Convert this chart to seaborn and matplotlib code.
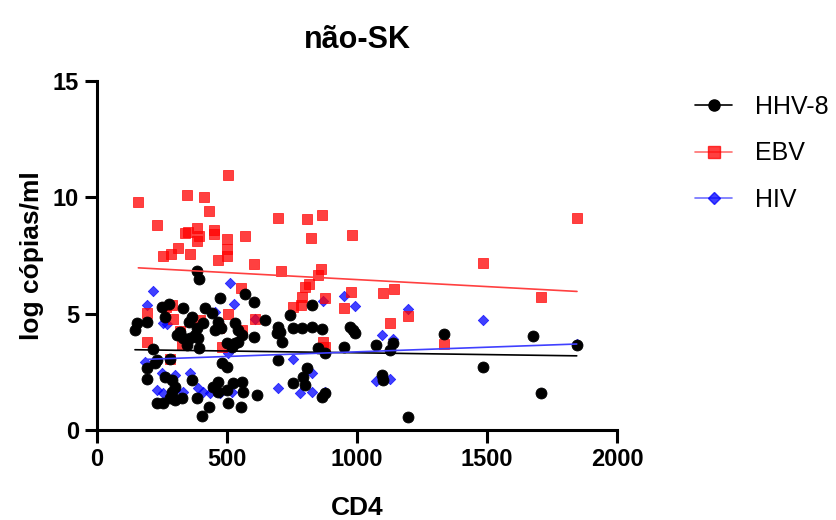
import numpy as np
import pandas as pd
import matplotlib
matplotlib.use("Agg")
import matplotlib.pyplot as plt
from matplotlib.lines import Line2D
import seaborn as sns

# CD4 count vs log copies/ml
hhv8_cd4 = [386, 393, 473, 569, 605, 277, 249, 330, 415, 441, 262, 364, 355, 155, 146,
            191, 409, 383, 467, 454, 476, 531, 543, 557, 543, 646, 742, 695, 704, 691,
            710, 755, 787, 826, 864, 826, 973, 986, 319, 307, 332, 377, 358, 345, 390,
            605, 499, 518, 531, 393, 217, 281, 230, 223, 191, 191, 480, 499, 697, 851,
            877, 951, 807, 793, 800, 753, 262, 287, 300, 364, 467, 447, 467, 499, 524,
            557, 563, 614, 287, 281, 300, 326, 230, 255, 383, 505, 432, 403, 553, 864,
            877, 992, 1073, 1140, 1127, 1335, 1676, 1845, 1483, 1095, 1099, 1708, 1197]
hhv8_log = [6.83, 6.49, 5.69, 5.84, 5.50, 5.41, 5.30, 5.23, 5.23, 5.04, 4.87, 4.87, 4.65, 4.61, 4.30,
            4.65, 4.58, 4.37, 4.65, 4.30, 4.37, 4.58, 4.30, 4.08, 3.79, 4.73, 4.94, 4.44, 4.22, 4.16,
            3.79, 4.37, 4.37, 4.44, 4.33, 5.37, 4.44, 4.30, 4.22, 4.08, 3.94, 4.08, 3.94, 3.65, 3.94,
            4.01, 3.73, 3.58, 3.73, 3.51, 3.47, 3.05, 3.01, 2.87, 2.65, 2.19, 2.87, 2.69, 3.01, 3.51,
            3.30, 3.58, 2.65, 2.29, 1.93, 2.01, 2.29, 2.15, 1.86, 2.15, 2.08, 1.86, 1.65, 1.72, 2.01,
            2.08, 1.65, 1.50, 1.65, 1.36, 1.29, 1.36, 1.15, 1.15, 1.36, 1.15, 1.00, 0.60, 1.00, 1.43,
            1.58, 4.18, 3.65, 3.73, 3.44, 4.13, 4.05, 3.65, 2.72, 2.36, 2.15, 1.58, 0.57]

ebv_cd4 = [505, 159, 346, 413, 432, 230, 351, 386, 393, 383, 450, 449, 501, 501, 500,
           464, 570, 697, 809, 864, 824, 980, 253, 283, 310, 357, 605, 709, 862, 851,
           553, 817, 800, 787, 877, 976, 1846, 1485, 1101, 1142, 1708, 951, 1197, 1127, 1335,
           783, 753, 265, 288, 293, 193, 505, 608, 396, 470, 556, 319, 193, 328, 480, 870,
           877, 338, 281]
ebv_log = [10.96, 9.78, 10.10, 10.00, 9.41, 8.80, 8.52, 8.67, 8.34, 8.13, 8.59, 8.41, 8.19, 7.76, 7.48,
           7.30, 8.34, 9.10, 9.05, 9.24, 8.25, 8.38, 7.48, 7.58, 7.83, 7.58, 7.13, 6.83, 6.92, 6.66,
           6.09, 6.26, 6.16, 5.73, 5.67, 5.94, 9.10, 7.16, 5.87, 6.05, 5.73, 5.23, 4.90, 4.61, 3.70,
           5.37, 5.30, 5.30, 5.37, 4.76, 5.04, 4.97, 4.77, 4.73, 4.40, 4.30, 4.27, 3.79, 3.65, 3.58,
           3.79, 3.58, 8.48, 3.05]

hiv_cd4 = [217, 512, 951, 191, 528, 255, 268, 608, 870, 454, 505, 753, 185, 249, 300,
           358, 826, 230, 255, 332, 300, 390, 409, 435, 473, 518, 697, 781, 826, 877,
           992, 1197, 1483, 1095, 1140, 1073, 1127, 1845, 1708, 191]
hiv_log = [5.99, 6.33, 5.74, 5.37, 5.41, 4.58, 4.54, 4.76, 5.56, 5.08, 3.30, 3.04, 2.93, 2.44, 2.36,
           2.44, 2.44, 1.72, 1.58, 1.65, 1.72, 1.79, 1.65, 1.58, 1.58, 1.65, 1.79, 1.60, 1.65, 1.65,
           5.33, 5.19, 4.73, 4.08, 3.90, 2.12, 2.19, 3.70, 1.58, 2.19]

series = ["HHV-8", "EBV", "HIV"]

df = pd.concat([
    pd.DataFrame({"CD4": hhv8_cd4, "log": hhv8_log, "virus": "HHV-8"}),
    pd.DataFrame({"CD4": ebv_cd4, "log": ebv_log, "virus": "EBV"}),
    pd.DataFrame({"CD4": hiv_cd4, "log": hiv_log, "virus": "HIV"}),
], ignore_index=True)

sns.set_style("ticks")
plt.rcParams['font.family'] = ['Liberation Sans', 'DejaVu Sans']
for k in ["text.color", "axes.labelcolor", "xtick.color", "ytick.color", "axes.edgecolor"]:
    plt.rcParams[k] = "black"

colors = {"HHV-8": "#000000", "EBV": "#ff0000", "HIV": "#0000ff"}
markers = {"HHV-8": "o", "EBV": "s", "HIV": "D"}
sizes = {"HHV-8": 62, "EBV": 52, "HIV": 28}
alphas = {"HHV-8": 1.0, "EBV": 0.75, "HIV": 0.75}

fig = plt.figure(figsize=(8.37, 5.2), dpi=100)
ax = fig.add_axes([0.1159, 0.1731, 0.6213, 0.6712])

# blue under red under black, as in the original
for v in ["HIV", "EBV", "HHV-8"]:
    d = df[df["virus"] == v]
    sns.scatterplot(data=d, x="CD4", y="log", ax=ax, color=colors[v], marker=markers[v],
                    s=sizes[v], alpha=alphas[v], edgecolor=colors[v], linewidth=0.6,
                    zorder=3, legend=False)

line_cols = {"HHV-8": "#000000", "EBV": "#ff4040", "HIV": "#4040ff"}
for v in series:
    d = df[df["virus"] == v]
    sns.regplot(data=d, x="CD4", y="log", ax=ax, scatter=False, ci=None, truncate=True,
                line_kws={"color": line_cols[v], "lw": 1.2, "zorder": 4})

ax.set_xlim(0, 2000)
ax.set_ylim(0, 15)
ax.set_xticks([0, 500, 1000, 1500, 2000])
ax.set_yticks([0, 5, 10, 15])
sns.despine(ax=ax)
for s in ["left", "bottom"]:
    ax.spines[s].set_linewidth(2.2)
ax.tick_params(width=2.2, length=9, pad=4, labelsize=17)
for lab in ax.get_xticklabels() + ax.get_yticklabels():
    lab.set_fontweight("bold")

ax.set_xlabel("CD4", fontsize=19, fontweight="bold", labelpad=18)
ax.set_ylabel("log cópias/ml", fontsize=19, fontweight="bold", labelpad=6)
ax.set_title("não-SK", fontsize=22, fontweight="bold", pad=24)

handles = [Line2D([0], [0], color=line_cols[v], marker=markers[v], markersize=8 if v != "HIV" else 6,
                  markerfacecolor=colors[v], markeredgecolor=colors[v], alpha=alphas[v], lw=1.2)
           for v in series]
fig.legend(handles, series, loc="upper left", bbox_to_anchor=(695 / 837, 1 - 95 / 520),
           frameon=False, fontsize=18, handlelength=1.5, handletextpad=0.9,
           labelspacing=0.9, borderpad=0, borderaxespad=0)

fig.savefig("out.png", dpi=100)
